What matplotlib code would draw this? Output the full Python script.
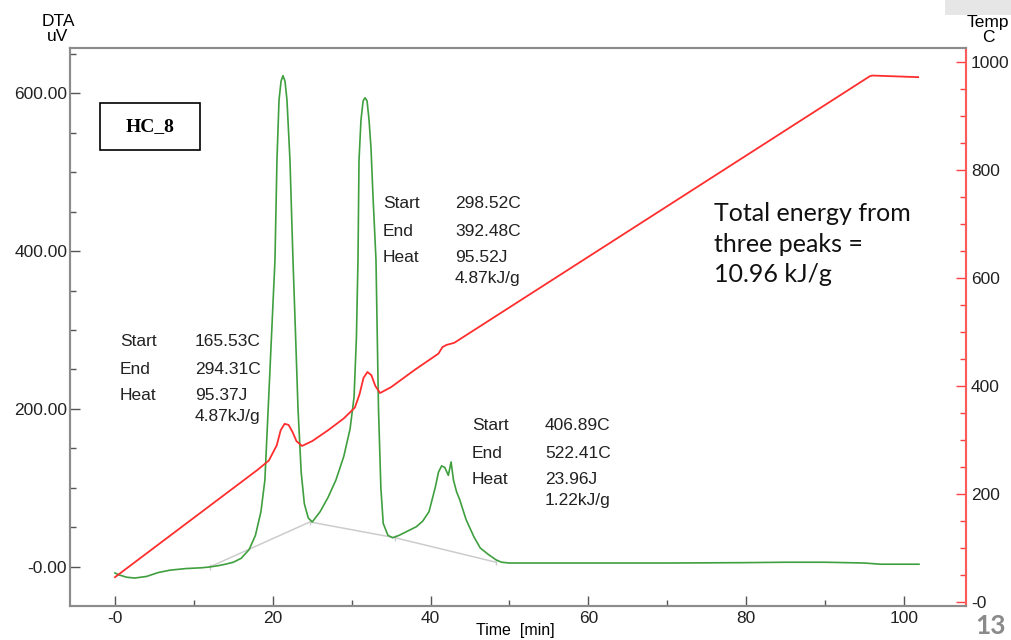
import matplotlib.pyplot as plt
from matplotlib.ticker import MultipleLocator, FuncFormatter
from matplotlib.patches import Rectangle

# temperature programme (right axis)
temp_t = [0, 5, 10, 15, 18, 19.5, 20.5, 21, 21.5, 22, 22.5, 23, 23.7, 25, 27, 29, 30.4,
          31, 31.5, 32, 32.5, 33, 33.6, 35, 38, 41, 41.5, 42, 43, 95.7, 96, 101.8]
temp_c = [46, 101, 156, 211, 244, 262, 290, 318, 330, 328, 315, 298, 289, 298, 318, 340, 360,
          385, 415, 426, 420, 400, 387, 398, 430, 460, 472, 476, 480, 974, 975, 972]

# DTA signal (left axis)
dta_t = [0, 0.5, 1.5, 2.5, 4, 5.5, 7, 9, 11, 12, 13, 14, 15, 16, 17, 17.8, 18.5, 19, 19.6,
         20.28, 20.53, 20.79, 21.05, 21.29, 21.55, 21.8, 22.18, 22.56, 22.9, 23.2, 23.6, 24, 24.5, 25,
         26, 27, 28, 29, 29.8, 30.3, 30.6, 30.8, 30.93, 31.18, 31.45, 31.69, 31.95, 32.2, 32.45,
         32.7, 33.08, 33.4, 33.7, 34, 34.6, 35.2, 36, 37.4, 38.2, 39, 39.8, 40.6, 41, 41.4, 41.8,
         42.25, 42.6, 42.9, 43.3, 43.7, 44.5, 45.5, 46.3, 47.3, 48.3, 49, 50, 60, 70, 80, 85, 90,
         95, 97, 101.9]
dta_uv = [-7.6, -10, -13, -14, -12, -7, -4, -2, -1, 0, 1.5, 3.5, 6, 11, 22, 40, 70, 110, 240,
          389, 515, 591, 615, 622, 615, 591, 515, 389, 290, 200, 120, 80, 62, 57,
          70, 88, 110, 140, 175, 215, 290, 389, 515, 566, 590, 594, 590, 566, 530,
          470, 389, 200, 100, 55, 40, 37, 40, 47, 51, 58, 70, 101, 120, 128, 126,
          116, 133, 110, 95, 85, 60, 38, 24, 16, 9, 6, 5, 5, 5, 5.5, 6, 6,
          5, 3.5, 3.5]

# integration baseline
base_t = [12, 24.7, 35.5, 48.3]
base_uv = [0, 57, 37, 6]

peaks = [
    (120, 195, 342, ["Start", "End", "Heat"], ["165.53C", "294.31C", "95.37J", "4.87kJ/g"]),
    (383, 455, 204, ["Start", "End", "Heat"], ["298.52C", "392.48C", "95.52J", "4.87kJ/g"]),
    (472, 545, 426, ["Start", "End", "Heat"], ["406.89C", "522.41C", "23.96J", "1.22kJ/g"]),
]

plt.rcParams['font.family'] = ['Liberation Sans', 'DejaVu Sans']

W, H = 1012, 640
fig = plt.figure(figsize=(W / 100, H / 100), dpi=100)
ax = fig.add_axes([70 / W, 1 - 606 / H, (966 - 70) / W, (606 - 48) / H])
ax2 = ax.twinx()


def px(x, y):
    return x / W, 1 - y / H


ax.plot(base_t, base_uv, color='#cccccc', lw=1.1, marker='|', ms=5, mew=1)
ax.plot(dta_t, dta_uv, color='#3f9f3f', lw=1.2)
ax2.plot(temp_t, temp_c, color='#ff2e2e', lw=1.3)

ax.set_xlim(-5.7, 107.86)
ax.set_ylim(-49.4, 657)
ax2.set_ylim(-7.4, 1026)

ax.xaxis.set_major_locator(MultipleLocator(20))
ax.xaxis.set_minor_locator(MultipleLocator(10))
ax.yaxis.set_major_locator(MultipleLocator(200))
ax.yaxis.set_minor_locator(MultipleLocator(50))
ax2.yaxis.set_major_locator(MultipleLocator(200))
ax2.yaxis.set_minor_locator(MultipleLocator(50))

ax.xaxis.set_major_formatter(FuncFormatter(lambda v, p: "-0" if v == 0 else "%d" % v))
ax.yaxis.set_major_formatter(FuncFormatter(lambda v, p: "-0.00" if v == 0 else "%.2f" % v))
ax2.yaxis.set_major_formatter(FuncFormatter(lambda v, p: "-0" if v == 0 else "%d" % v))

for a in (ax, ax2):
    for s in a.spines.values():
        s.set_color('#8c8c8c')
        s.set_linewidth(1.5)
ax2.spines['right'].set_color('#ff5a5a')

ax.tick_params(axis='both', which='both', direction='in', colors='#555555', labelcolor='#222222',
               labelsize=12.5)
ax.tick_params(which='major', length=7, width=1)
ax.tick_params(which='minor', length=4, width=1)
ax.tick_params(axis='y', pad=2)
ax2.tick_params(axis='y', which='both', direction='in', colors='#ff4040', labelcolor='#222222',
                labelsize=12.5)
ax2.tick_params(which='major', length=7, width=1)
ax2.tick_params(which='minor', length=4, width=1)

fig.text(*px(515, 631), "Time  [min]", ha='center', va='center', fontsize=11.5)
fig.text(*px(58, 29), "DTA\nuV", ha='center', va='center', fontsize=12.5, linespacing=0.95)
fig.text(*px(988, 30), "Temp\nC", ha='center', va='center', fontsize=12.5, linespacing=0.95)

# sample label box
fig.text(*px(150, 127), "HC_8", ha='center', va='center', fontsize=14, weight='bold',
         family='Liberation Serif')
fig.patches.append(Rectangle(px(100, 150), 100 / W, 47 / H, transform=fig.transFigure,
                             fill=False, ec='black', lw=1.2))

for xl, xv, y0, labels, vals in peaks:
    for i, lab in enumerate(labels):
        fig.text(*px(xl, y0 + 27 * i), lab, va='center', fontsize=12.5, color='#222222')
    for i, v in enumerate(vals):
        y = y0 + 27 * i if i < 3 else y0 + 75
        fig.text(*px(xv, y), v, va='center', fontsize=12.5, color='#222222')

fig.text(*px(714, 244), "Total energy from\nthree peaks =\n10.96 kJ/g", va='center', ha='left',
         fontsize=18, family='Lato', linespacing=1.4, color='#111111')

fig.patches.append(Rectangle(px(945, 15), 67 / W, 15 / H, transform=fig.transFigure,
                             color='#e6e6e6', lw=0))
fig.text(*px(991, 626), "13", ha='center', va='center', fontsize=19, weight='bold',
         color='#8a8a8a', family='Lato')

fig.savefig('out.png', dpi=100)
